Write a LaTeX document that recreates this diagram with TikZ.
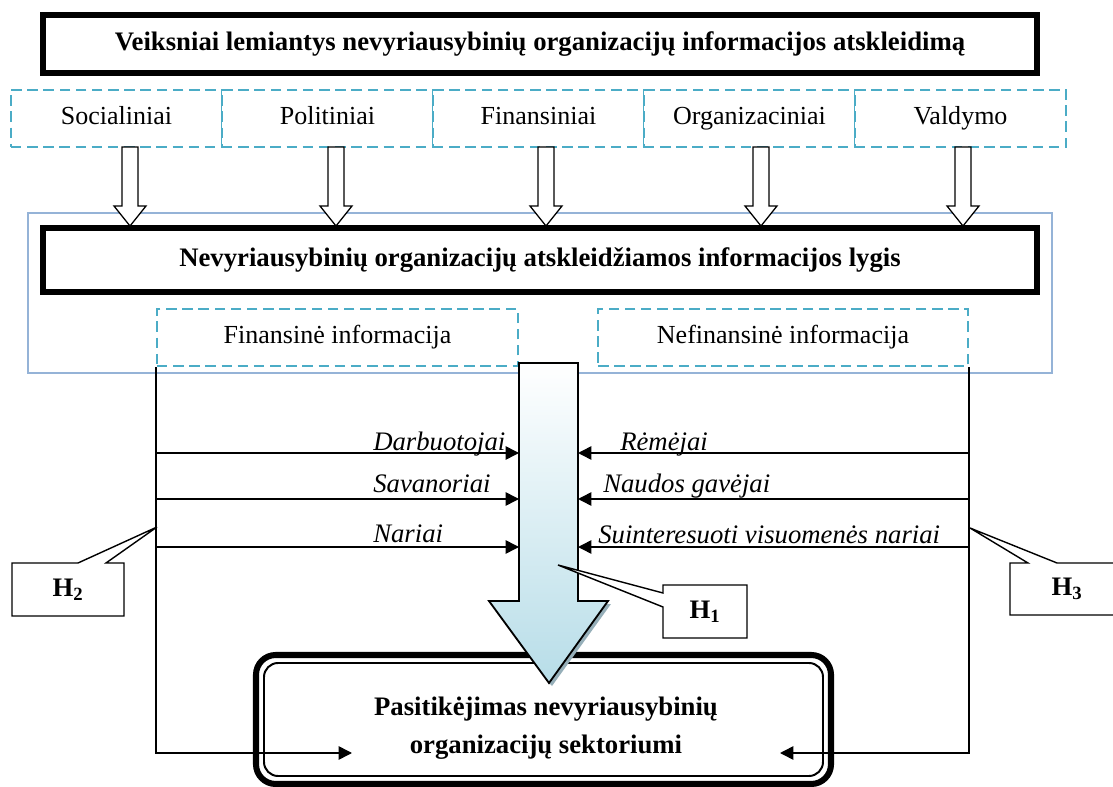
\documentclass[tikz,border=0pt]{standalone}
\usepackage{fontspec}
\setmainfont{Liberation Serif}
\usetikzlibrary{arrows.meta, positioning}

\definecolor{dashblue}{RGB}{75,172,198}
\definecolor{panelblue}{RGB}{149,179,215}
\definecolor{arrowblue}{RGB}{183,221,232}
\definecolor{shadowgray}{RGB}{150,175,185}

\tikzset{
    headbox/.style={draw, line width=4.3pt, fill=white, minimum width=24.85cm,
        minimum height=1.45cm, font=\bfseries\fontsize{19}{22}\selectfont,
        text height=2.3ex, text depth=.3ex},
    factorbox/.style={draw=dashblue, line width=1.5pt, dash pattern=on 7.5pt off 4pt,
        fill=white, minimum width=5.28cm, minimum height=1.43cm, inner sep=0pt,
        text height=2.3ex, text depth=.3ex},
    infobox/.style={draw=dashblue, line width=1.5pt, dash pattern=on 7.5pt off 4pt,
        fill=white, minimum height=1.43cm, inner sep=0pt,
        text height=2.3ex, text depth=.3ex},
    hollowarrow/.style={draw, fill=white, line width=0.9pt},
    link/.style={line width=1.1pt, -{Triangle[length=9.5pt, width=9.5pt]}},
    party/.style={font=\itshape\fontsize{19}{22}\selectfont, anchor=base west, inner sep=0pt},
    callout/.style={draw, fill=white, line width=1pt},
    hlabel/.style={font=\bfseries\fontsize{19}{22}\selectfont}
}

\begin{document}
\begin{tikzpicture}[x=0.025cm, y=-0.025cm, font=\fontsize{18.5}{22}\selectfont]
    \useasboundingbox (0,0) rectangle (1113,787);

    % panel round the level box
    \draw[panelblue, line width=0.8pt, fill=white] (28,213) rectangle (1052,373);

    \node[headbox] (title) at (540,44)
        {Veiksniai lemiantys nevyriausybinių organizacijų informacijos atskleidimą};

    \node[factorbox] (soc) at (116.5,118.5) {Socialiniai};
    \node[factorbox] (pol) at (327.5,118.5) {Politiniai};
    \node[factorbox] (fins) at (538.5,118.5) {Finansiniai};
    \node[factorbox] (org) at (749.5,118.5) {Organizaciniai};
    \node[factorbox] (vald) at (960.5,118.5) {Valdymo};

    \node[headbox, minimum height=1.6cm] (level) at (540,260)
        {Nevyriausybinių organizacijų atskleidžiamos informacijos lygis};

    \node[infobox, minimum width=9.03cm] (fin) at (337.5,337.5) {Finansinė informacija};
    \node[infobox, minimum width=9.25cm] (nefin) at (783,337.5) {Nefinansinė informacija};

    % hollow arrows
    \draw[hollowarrow] (122,147) -- (138,147) -- (138,206) -- (146,206) -- (130,226)
        -- (114,206) -- (122,206) -- cycle;
    \draw[hollowarrow] (328,147) -- (344,147) -- (344,206) -- (352,206) -- (336,226)
        -- (320,206) -- (328,206) -- cycle;
    \draw[hollowarrow] (538,147) -- (554,147) -- (554,206) -- (562,206) -- (546,226)
        -- (530,206) -- (538,206) -- cycle;
    \draw[hollowarrow] (753,147) -- (769,147) -- (769,206) -- (777,206) -- (761,226)
        -- (745,206) -- (753,206) -- cycle;
    \draw[hollowarrow] (955,147) -- (971,147) -- (971,206) -- (979,206) -- (963,226)
        -- (947,206) -- (955,206) -- cycle;

    % trust box
    \draw[line width=4.3pt, rounded corners=14pt, fill=white] (256,655) rectangle (831,784);
    \draw[line width=1.4pt, rounded corners=10pt] (264,663) rectangle (823,776);
    \node[font=\bfseries\fontsize{19}{27}\selectfont, align=center] (trust) at (546,728)
        {Pasitikėjimas nevyriausybinių\\organizacijų sektoriumi};

    % big arrow
    \fill[shadowgray] (582,604) -- (611,604) -- (552,686) -- (549,683) -- (608,601) -- cycle;
    \shade[top color=white, bottom color=arrowblue, draw=black, line width=1.3pt]
        (519,363) -- (578,363) -- (578,601) -- (608,601) -- (549,683)
        -- (489,601) -- (519,601) -- cycle;

    \coordinate (lend) at (352,753);
    \coordinate (rend) at (780,753);
    \draw[link] (fin.south west) |- (lend);
    \draw[link] (nefin.south east) |- (rend);

    \node[party] (darb) at (373,451) {Darbuotojai};
    \node[party] (sav) at (373,492) {Savanoriai};
    \node[party] (nar) at (373,542) {Nariai};
    \draw[link] (157,453) -- (519,453);
    \draw[link] (157,499) -- (519,499);
    \draw[link] (157,547) -- (519,547);

    \node[party] (rem) at (620,451) {Rėmėjai};
    \node[party] (naud) at (603,492) {Naudos gavėjai};
    \node[party] (suint) at (598,543) {Suinteresuoti visuomenės nariai};
    \draw[link] (968,453) -- (578,453);
    \draw[link] (968,499) -- (578,499);
    \draw[link] (968,547) -- (578,547);

    % callouts
    \draw[callout] (12,563) -- (78,563) -- (157,527) -- (106,563) -- (124,563)
        -- (124,616) -- (12,616) -- cycle;
    \node[hlabel] (h2) at (68,590) {H\textsubscript{2}};
    \draw[callout] (663,585) -- (747,585) -- (747,638) -- (663,638) -- (663,607)
        -- (558,565) -- (663,593) -- cycle;
    \node[hlabel] (h1) at (705,612) {H\textsubscript{1}};
    \draw[callout] (1010,563) -- (1028,563) -- (970,528) -- (1057,563) -- (1124,563)
        -- (1124,615) -- (1010,615) -- cycle;
    \node[hlabel] (h3) at (1067,589) {H\textsubscript{3}};
\end{tikzpicture}
\end{document}
